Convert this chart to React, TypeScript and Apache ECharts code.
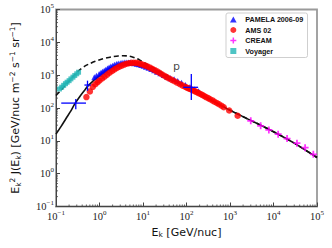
import React, { useEffect, useRef } from 'react';
import * as echarts from 'echarts';

// ---- data ----
const amsEnergy = [0.5, 0.6, 0.7, 0.8, 0.9, 1.0, 1.15, 1.3, 1.5, 1.7, 1.95, 2.2, 2.5, 2.85, 3.25, 3.7, 4.2, 4.75, 5.4, 6.1, 6.9, 7.8, 8.8, 10, 11.3, 12.8, 14.5, 16.4, 18.6, 21, 24, 27, 31, 35, 40, 46, 53, 61, 71, 82, 95, 104, 112, 122, 132, 145, 158, 174, 190, 210, 230, 255, 280, 315, 350, 395, 440, 500, 560, 640, 720, 960, 1500];
const amsFlux = [215, 320, 440, 530, 610, 690, 790, 900, 1040, 1180, 1340, 1500, 1660, 1820, 1960, 2100, 2220, 2310, 2370, 2390, 2370, 2300, 2200, 2080, 1960, 1830, 1690, 1550, 1420, 1300, 1180, 1070, 960, 870, 790, 720, 650, 590, 530, 480, 435, 415, 395, 378, 360, 340, 320, 302, 285, 268, 250, 232, 215, 200, 185, 170, 155, 142, 130, 117, 105, 84, 58];

const pamelaEnergy = [0.76, 0.85, 0.98, 1.08, 1.17, 1.28, 1.39, 1.52, 1.66, 1.82, 2.0, 2.2, 2.45, 2.7, 3.0, 3.3, 3.7, 4.1, 4.6, 5.1, 5.7, 6.4, 7.2, 8.1, 9.1, 10.3, 11.7, 13.4, 15.5, 18, 21, 25, 30, 36, 43, 52, 63, 77, 95, 120, 150, 190];
const pamelaFlux = [860, 960, 1090, 1180, 1280, 1370, 1470, 1600, 1720, 1840, 1950, 2060, 2170, 2250, 2320, 2370, 2410, 2430, 2430, 2410, 2380, 2320, 2240, 2150, 2050, 1940, 1820, 1690, 1550, 1410, 1280, 1150, 1020, 900, 800, 750, 670, 585, 505, 435, 375, 325];

const creamEnergy = [3000, 5070, 7820, 12800, 20500, 34600, 53300, 82400];
const creamFlux = [40.6, 28.6, 21.5, 15.9, 11.7, 8.5, 6.2, 3.9];

const voyagerEnergy = [0.12, 0.135, 0.15, 0.165, 0.18, 0.2, 0.22, 0.245, 0.27, 0.3, 0.33];
const voyagerFlux = [380, 430, 490, 550, 610, 680, 770, 870, 980, 1100, 1230];

// error-bar crosses: [E, F, Elow, Ehigh, Flow, Fhigh]
const crossPoints = [
  [0.285, 141, 0.132, 0.489, 92, 187],
  [0.53, 500, 0.45, 0.63, 336, 680],
  [129, 427, 84, 185, 175, 1090],
];

const modEnergy = [0.1, 0.13, 0.17, 0.22, 0.27, 0.35, 0.45, 0.55, 0.7, 0.85, 1.0, 1.3, 1.7, 2.2, 3, 4, 5, 6, 7.5, 10, 15, 20, 30, 50, 100, 200, 500, 1000, 3000, 10000, 30000, 100000];
const modFlux = [16, 27, 48, 82, 133, 220, 340, 480, 650, 800, 960, 1230, 1550, 1850, 2150, 2350, 2420, 2420, 2330, 2080, 1620, 1330, 1000, 700, 430, 270, 140, 85, 42, 19, 8.5, 3.1];

const lisEnergy = [0.1, 0.13, 0.17, 0.22, 0.28, 0.35, 0.45, 0.6, 0.8, 1.1, 1.5, 2, 2.7, 3.5, 4.5, 5.5, 7, 8.5, 10, 13, 20, 30, 50, 100, 200, 500, 1000, 3000, 10000, 30000, 100000];
const lisFlux = [240, 350, 520, 760, 1080, 1450, 1850, 2250, 2650, 3050, 3400, 3650, 3850, 3900, 3850, 3650, 3250, 2850, 2500, 2050, 1500, 1100, 750, 440, 275, 142, 86, 42, 19, 8.5, 3.1];

const pLabel = [[59, 1780]];

const xDecades = [0.1, 1, 10, 100, 1000, 10000];
const yDecades = [0.1, 1, 10, 100, 1000, 10000];
const minorMantissas = [2, 3, 4, 5, 6, 7, 8, 9];

const zip = (a: number[], b: number[]) => a.map((v, i) => [v, b[i]]);

const minorTickData: number[][] = [];
xDecades.forEach((d) => minorMantissas.forEach((m) => minorTickData.push([d * m, 0.1, 0])));
yDecades.forEach((d) => minorMantissas.forEach((m) => minorTickData.push([0.1, d * m, 1])));

const supExp = (v: number) => {
  const e = Math.round(Math.log10(v));
  return e < 0 ? '\u2212' + Math.abs(e) : String(e);
};

const TRI = 'path://M5,0 L10,9 L0,9 Z';
const SQUARE = 'path://M0,0 H10 V10 H0 Z';
const PLUS = 'path://M3,0 H5 V3 H8 V5 H5 V8 H3 V5 H0 V3 H3 Z';

const tickRich = {
  b: { fontSize: 10.5, fontFamily: 'Liberation Serif', color: '#222' },
  s: { fontSize: 7, fontFamily: 'Liberation Serif', color: '#222', padding: [0, 0, 7, 0] },
};

const nameRich = {
  n: { fontSize: 11, fontFamily: 'DejaVu Sans', color: '#111' },
  sub: { fontSize: 7.5, fontFamily: 'DejaVu Sans', color: '#111', padding: [5, 0, 0, 0] },
  sup: { fontSize: 7.5, fontFamily: 'DejaVu Sans', color: '#111', padding: [0, 0, 7, 0] },
};

const yNameRich = {
  n: { fontSize: 11, fontFamily: 'DejaVu Sans', color: '#111' },
  sub: { fontSize: 7.5, fontFamily: 'DejaVu Sans', color: '#111', padding: [5, 0, 0, 0] },
  sup: { fontSize: 7.5, fontFamily: 'DejaVu Sans', color: '#111', padding: [0, 0, 7, 0] },
};

export default function App() {
  const ref = useRef<HTMLDivElement>(null);
  useEffect(() => {
    if (!ref.current) return;
    const chart = echarts.init(ref.current, undefined, { renderer: 'svg' });
    const option: any = {
      animation: false,
      backgroundColor: '#fff',
      grid: {
        left: 53, right: 15, top: 9.5, bottom: 41.5,
        show: true, borderColor: '#9a9a9a', borderWidth: 1.8, backgroundColor: 'transparent',
      },
      legend: {
        left: 226, top: 13, orient: 'vertical',
        itemWidth: 14, itemHeight: 6, itemGap: 2.5,
        symbolKeepAspect: true,
        padding: [2.5, 4, 2.5, 4],
        backgroundColor: '#fff', borderColor: '#cfcfcf', borderWidth: 1, borderRadius: 2,
        textStyle: { fontSize: 7.2, fontWeight: 'bold', fontFamily: 'Liberation Sans', color: '#111', lineHeight: 8 },
        data: [
          { name: 'PAMELA 2006-09', icon: TRI },
          { name: 'AMS 02', icon: 'circle' },
          { name: 'CREAM', icon: PLUS },
          { name: 'Voyager', icon: SQUARE },
        ],
      },
      xAxis: {
        type: 'log', logBase: 10, min: 0.1, max: 100000,
        name: '{n|E}{sub|k}{n| [GeV/nuc]}',
        nameLocation: 'middle', nameGap: 17,
        nameTextStyle: { rich: nameRich },
        axisLine: { lineStyle: { color: '#444', width: 1 } },
        axisTick: { inside: true, length: 4, lineStyle: { color: '#444' } },
        axisLabel: {
          margin: 3, showMinLabel: true, showMaxLabel: true,
          formatter: (v: number) => `{b|10}{s|${supExp(v)}}`,
          rich: tickRich,
        },
        splitLine: { show: false },
      },
      yAxis: {
        type: 'log', logBase: 10, min: 0.1, max: 100000,
        name: '{n|E}{sub|k}{sup|2}{n| J(E}{sub|k}{n|) [GeV/nuc m}{sup|\u22122}{n| s}{sup|\u22121}{n| sr}{sup|\u22121}{n|]}',
        nameLocation: 'middle', nameGap: 33,
        nameTextStyle: { rich: yNameRich },
        axisLine: { lineStyle: { color: '#444', width: 1 } },
        axisTick: { inside: true, length: 4, lineStyle: { color: '#444' } },
        axisLabel: {
          margin: 2, showMinLabel: true, showMaxLabel: true,
          formatter: (v: number) => `{b|10}{s|${supExp(v)}}`,
          rich: tickRich,
        },
        splitLine: { show: false },
      },
      series: [
        {
          name: 'minor ticks', type: 'custom', silent: true, z: 1,
          data: minorTickData,
          renderItem: (params: any, api: any) => {
            const p = api.coord([api.value(0), api.value(1)]);
            const isY = api.value(2) === 1;
            return {
              type: 'line',
              shape: isY
                ? { x1: p[0], y1: p[1], x2: p[0] + 2, y2: p[1] }
                : { x1: p[0], y1: p[1], x2: p[0], y2: p[1] - 2 },
              style: { stroke: '#444', lineWidth: 0.8 },
            };
          },
        },
        {
          name: 'LIS', type: 'line', data: zip(lisEnergy, lisFlux), smooth: 0.3,
          showSymbol: false, symbol: 'none', z: 2,
          lineStyle: { color: '#111', width: 1.6, type: [5, 3] },
        },
        {
          name: 'modulated', type: 'line', data: zip(modEnergy, modFlux), smooth: 0.3,
          showSymbol: false, symbol: 'none', z: 2,
          lineStyle: { color: '#111', width: 1.6 },
        },
        {
          name: 'Voyager', type: 'scatter', data: zip(voyagerEnergy, voyagerFlux),
          symbol: 'rect', symbolSize: 5, itemStyle: { color: '#22b5b5' }, z: 3,
        },
        {
          name: 'PAMELA 2006-09', type: 'scatter', data: zip(pamelaEnergy, pamelaFlux),
          symbol: 'triangle', symbolSize: 6, itemStyle: { color: '#0000ff' }, z: 3,
        },
        {
          name: 'AMS 02', type: 'scatter', data: zip(amsEnergy, amsFlux),
          symbol: 'circle', symbolSize: 6.5, itemStyle: { color: '#ff0000' }, z: 4,
        },
        {
          name: 'CREAM', type: 'scatter', data: zip(creamEnergy, creamFlux),
          symbol: PLUS, symbolSize: 7,
          itemStyle: { color: '#ff00ff' }, z: 4,
        },
        {
          name: 'crosses', type: 'custom', z: 5,
          data: crossPoints,
          encode: { x: [0, 2, 3], y: [1, 4, 5] },
          renderItem: (params: any, api: any) => {
            const c = api.coord([api.value(0), api.value(1)]);
            const l = api.coord([api.value(2), api.value(1)]);
            const r = api.coord([api.value(3), api.value(1)]);
            const b = api.coord([api.value(0), api.value(4)]);
            const t = api.coord([api.value(0), api.value(5)]);
            const style = { stroke: '#0000ff', lineWidth: 1.3 };
            return {
              type: 'group',
              children: [
                { type: 'line', shape: { x1: l[0], y1: c[1], x2: r[0], y2: c[1] }, style },
                { type: 'line', shape: { x1: c[0], y1: t[1], x2: c[0], y2: b[1] }, style },
              ],
            };
          },
        },
        {
          name: 'p', type: 'scatter', data: pLabel, symbolSize: 1,
          itemStyle: { color: 'transparent' }, z: 6,
          label: {
            show: true, position: 'inside', formatter: 'p',
            fontSize: 11, fontFamily: 'DejaVu Sans', color: '#111',
          },
        },
      ],
    };
    chart.setOption(option);
    return () => chart.dispose();
  }, []);
  return <div ref={ref} style={{ width: 332, height: 248, position: 'absolute', left: 0, top: 0 }} />;
}
